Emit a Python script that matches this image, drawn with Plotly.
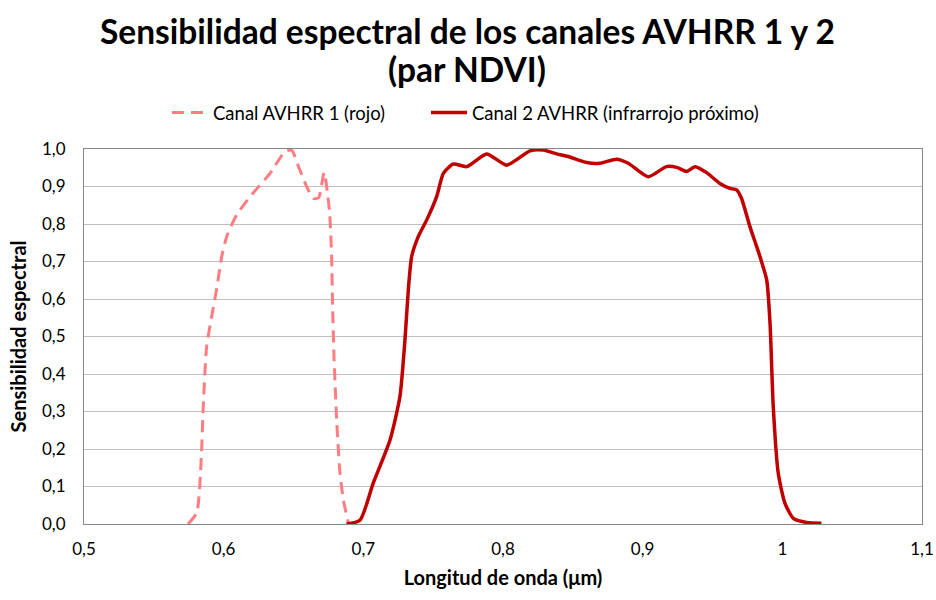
import plotly.graph_objects as go

# Canal 1 (rojo) - longitud de onda (um) y sensibilidad
ch1_wl = [0.5745, 0.5807, 0.584, 0.5854, 0.5878, 0.5914, 0.595, 0.5986, 0.6022, 0.6093,
          0.6189, 0.6332, 0.6439, 0.6487, 0.6534, 0.6594, 0.6642, 0.6680, 0.6719, 0.6757,
          0.6773, 0.678, 0.679, 0.681, 0.6833, 0.6857, 0.6893]
ch1_resp = [0.0, 0.03, 0.18, 0.314, 0.473, 0.553, 0.627, 0.713, 0.767, 0.824,
            0.873, 0.935, 0.993, 0.997, 0.955, 0.90, 0.868, 0.870, 0.937, 0.837,
            0.713, 0.58, 0.446, 0.27, 0.135, 0.064, 0.002]

# Canal 2 (infrarrojo proximo)
ch2_wl = [0.688, 0.6976, 0.7071, 0.7191, 0.7262, 0.7298, 0.7322, 0.7346, 0.7394, 0.7454,
          0.7525, 0.7573, 0.7644, 0.774, 0.7883, 0.8026, 0.8193, 0.8289, 0.8384, 0.8467,
          0.8599, 0.8694, 0.8814, 0.8897, 0.904, 0.9171, 0.9243, 0.9315, 0.9375, 0.9458,
          0.9553, 0.9625, 0.9673, 0.9708, 0.9768, 0.9816, 0.984, 0.9888, 0.9912, 0.9935,
          0.9971, 1.0019, 1.0079, 1.0174, 1.028]
ch2_resp = [0.0, 0.01, 0.109, 0.224, 0.34, 0.491, 0.624, 0.713, 0.767, 0.811,
            0.873, 0.935, 0.96, 0.953, 0.987, 0.957, 0.995, 0.997, 0.987, 0.98,
            0.964, 0.962, 0.973, 0.962, 0.926, 0.953, 0.951, 0.94, 0.953, 0.937,
            0.908, 0.895, 0.891, 0.868, 0.793, 0.74, 0.713, 0.651, 0.535, 0.313,
            0.135, 0.055, 0.015, 0.004, 0.002]

title_lines = ['Sensibilidad espectral de los canales AVHRR 1 y 2', '(par NDVI)']

font_family = 'Lato, "Open Sans", sans-serif'

fig = go.Figure()
fig.add_trace(go.Scatter(x=ch1_wl, y=ch1_resp, mode='lines', name='Canal AVHRR 1 (rojo)',
                         legend='legend',
                         line=dict(color='#FF7C80', width=3, dash='12px,7px', shape='spline', smoothing=0.6)))
fig.add_trace(go.Scatter(x=ch2_wl, y=ch2_resp, mode='lines', name='Canal 2 AVHRR (infrarrojo próximo)',
                         legend='legend2',
                         line=dict(color='#C00000', width=3.5, shape='spline', smoothing=0.6)))

# plot area: x 84..922, y 149..524 (375 px tall); page centre x=467
cx = (467 - 84) / 838
for txt, ys in zip(title_lines, [31, 69]):
    fig.add_annotation(text='<b>' + txt + '</b>', xref='paper', yref='paper',
                       x=cx, y=(524 - ys) / 375, xanchor='center', yanchor='middle',
                       showarrow=False, borderpad=0, font=dict(size=33.5, color='black'))

leg_y = (524 - 113) / 375
fig.update_layout(
    width=936, height=600,
    paper_bgcolor='white', plot_bgcolor='white',
    separators=',.',
    font=dict(family=font_family, color='black', size=17),
    legend=dict(orientation='h', x=(167 - 84) / 838, xanchor='left', y=leg_y, yanchor='middle',
                font=dict(size=18.5), itemwidth=36),
    legend2=dict(orientation='h', x=(426 - 84) / 838, xanchor='left', y=leg_y, yanchor='middle',
                 font=dict(size=18.5), itemwidth=36),
    margin=dict(l=84, r=14, t=149, b=76, autoexpand=False),
    showlegend=True,
)
fig.update_xaxes(range=[0.5, 1.1], dtick=0.1, tick0=0.5, automargin=False,
                 showgrid=False, showline=True, linecolor='#868686', mirror=True,
                 ticks='', zeroline=False, ticklabelstandoff=10,
                 title=dict(text='<b>Longitud de onda (μm)</b>', font=dict(size=20), standoff=12))
fig.update_yaxes(range=[0, 1.0], dtick=0.1, tickformat='.1f', automargin=False,
                 showgrid=True, gridcolor='#BFBFBF', gridwidth=1,
                 showline=True, linecolor='#868686', mirror=True,
                 ticks='', zeroline=False, ticklabelstandoff=14,
                 title=dict(text='<b>Sensibilidad espectral</b>', font=dict(size=20), standoff=10))

# drop the default 8px body margin so the figure fills the window exactly
fig.write_html("out.html", config={'displayModeBar': False},
               post_script="document.body.style.margin='0';")
